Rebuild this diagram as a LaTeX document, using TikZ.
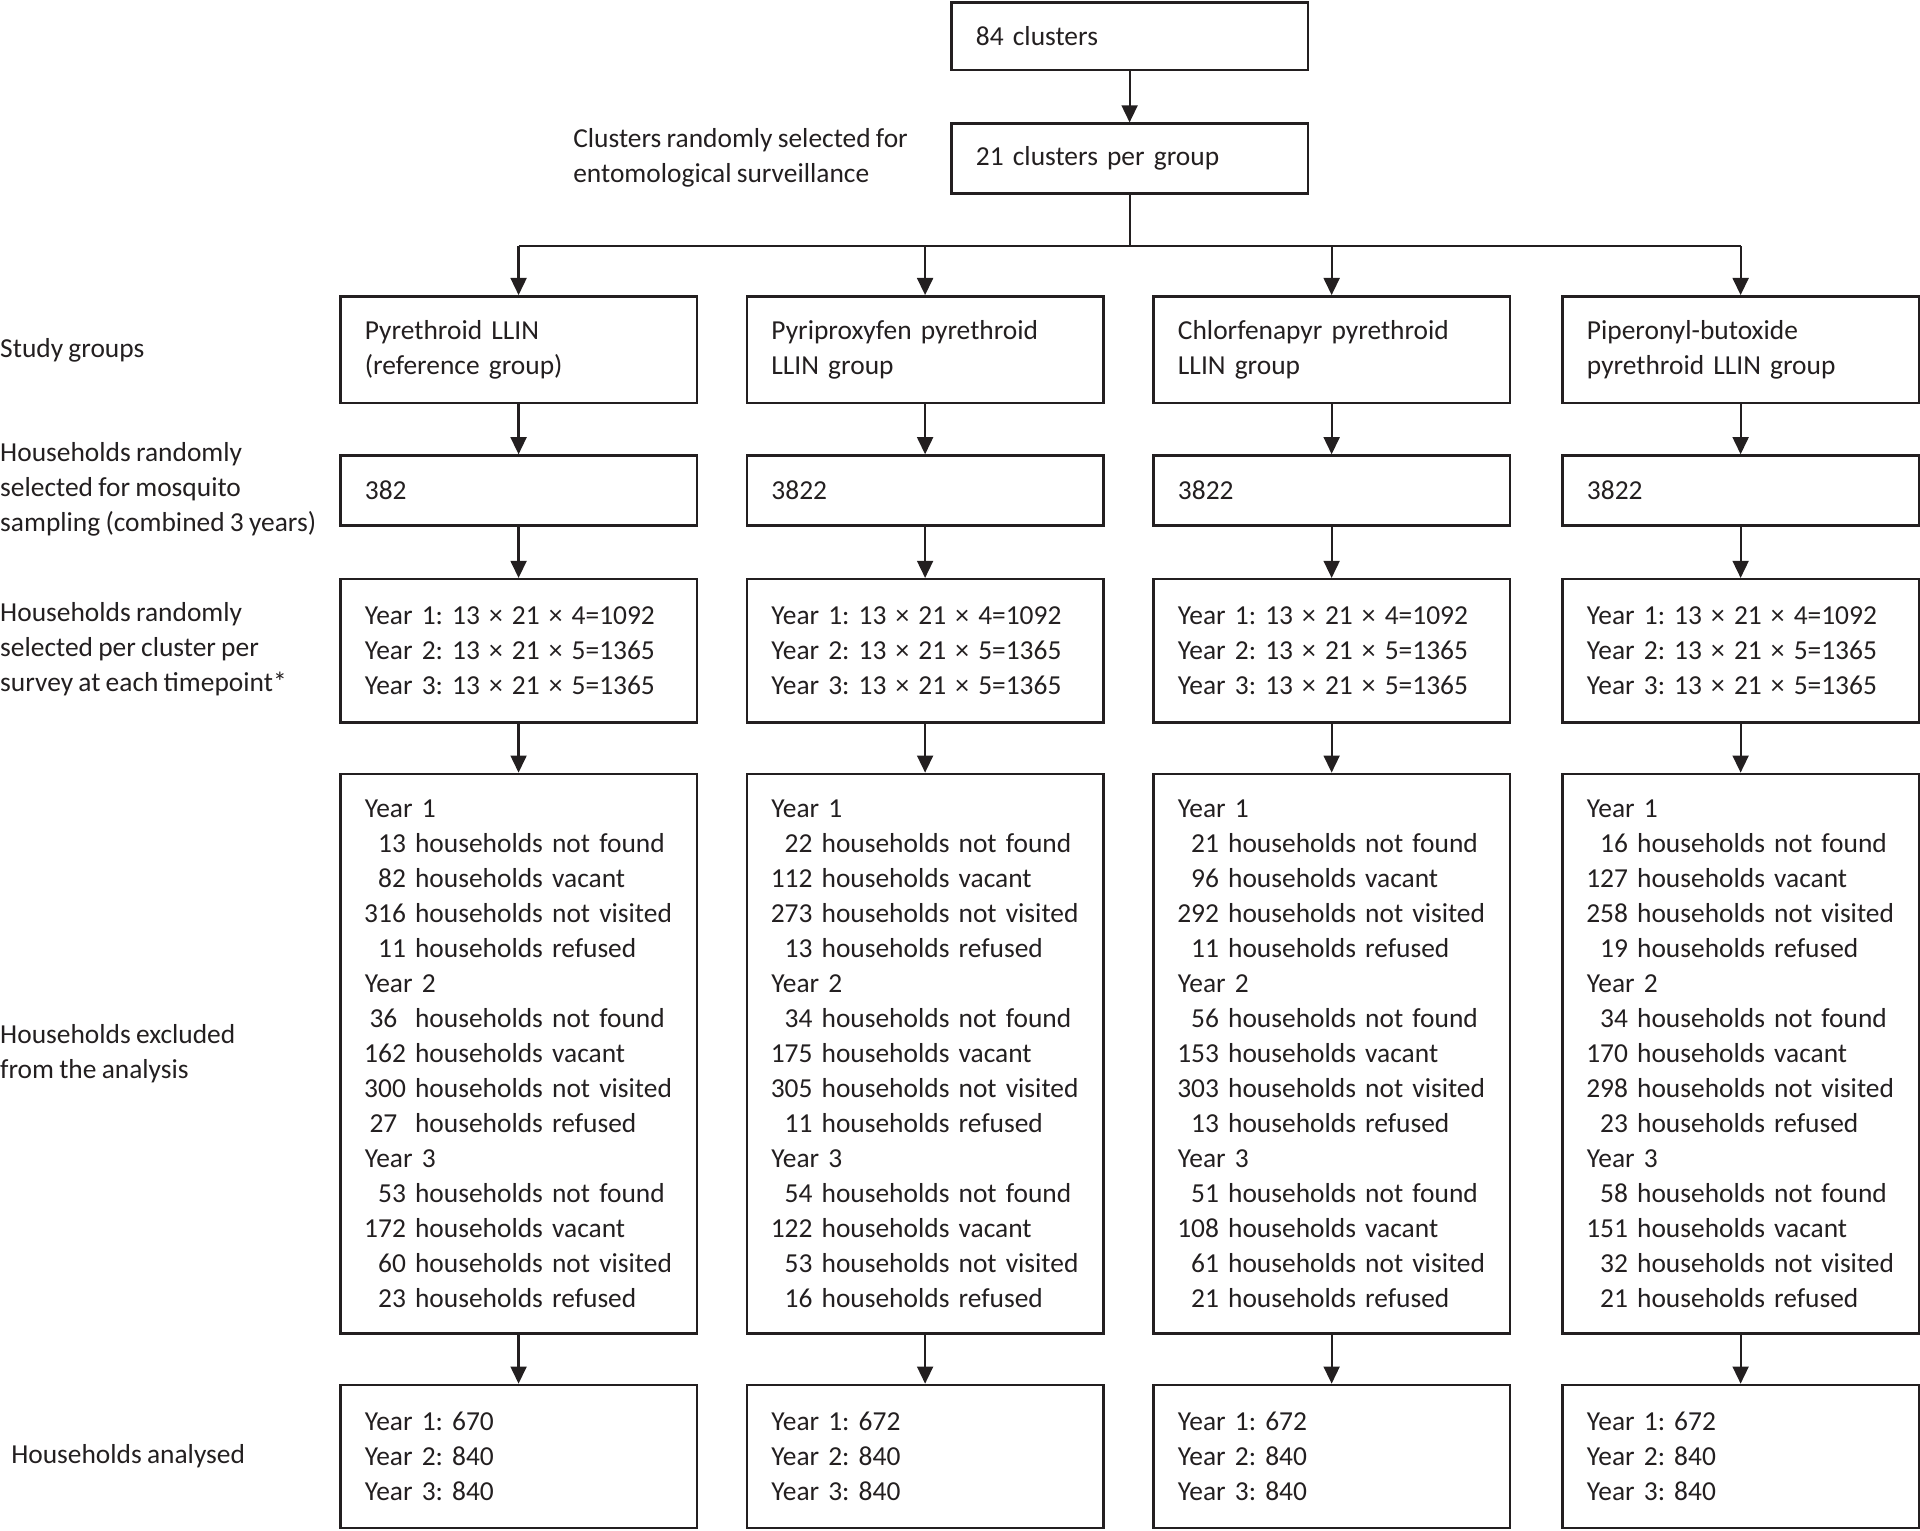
\documentclass[tikz,border=0pt]{standalone}
\usepackage{fontspec}
\setmainfont{Carlito}
\usetikzlibrary{arrows.meta}
\definecolor{ink}{HTML}{231F20}
\newcommand\hl[2]{\makebox[33.5pt][r]{#1} #2}
\newcommand\yr[5]{Year #1\\\hl{#2}{households not found}\\\hl{#3}{households vacant}\\\hl{#4}{households not visited}\\\hl{#5}{households refused}}
\newcommand\myfont{\fontsize{22.4}{28.6}\selectfont\frenchspacing\spaceskip=0.19em plus 0.05em\hyphenpenalty=10000\relax}
\begin{document}
\begin{tikzpicture}[x=1pt,y=-1pt,
  every node/.style={font=\myfont, text=ink},
  box/.style={draw=ink, line width=2pt, text width=251pt, inner xsep=20pt, inner ysep=0pt, align=left, minimum width=291pt},
  lab/.style={align=left, anchor=west, inner sep=0pt},
  con/.style={draw=ink, line width=1.8pt},
  arr/.style={con, -{Triangle[width=13pt,length=14pt]}}]
\useasboundingbox (0,0) rectangle (1568,1250);
% top
\node[box, minimum height=55pt] (top) at (922.5,29.5) {84 clusters};
\node[box, minimum height=57pt] (sel) at (922.5,129.5) {21 clusters per group};
\node[lab] (selL) at (468,128.5) {Clusters randomly selected for\\entomological surveillance};
\coordinate (bar) at (922.5,201);
% row 1
\node[box, minimum height=87pt] (g1) at (423.5,285.5) {Pyrethroid LLIN\\(reference group)};
\node[box, minimum height=87pt] (g2) at (755.5,285.5) {Pyriproxyfen pyrethroid\\LLIN group};
\node[box, minimum height=87pt] (g3) at (1087.5,285.5) {Chlorfenapyr pyrethroid\\LLIN group};
\node[box, minimum height=87pt] (g4) at (1421.5,285.5) {Piperonyl-butoxide\\pyrethroid LLIN group};
% row 2
\node[box, minimum height=57pt] (h1) at (423.5,400.5) {382};
\node[box, minimum height=57pt] (h2) at (755.5,400.5) {3822};
\node[box, minimum height=57pt] (h3) at (1087.5,400.5) {3822};
\node[box, minimum height=57pt] (h4) at (1421.5,400.5) {3822};
% row 3
\foreach \n/\x in {s1/423.5, s2/755.5, s3/1087.5, s4/1421.5}
  \node[box, minimum height=117pt] (\n) at (\x,531.5) {Year 1: 13 × 21 × 4=1092\\Year 2: 13 × 21 × 5=1365\\Year 3: 13 × 21 × 5=1365};
% row 4
\node[box, minimum height=457pt] (e1) at (423.5,860.5) {\yr{1}{13}{82}{316}{11}\\\yr{2}{36\hspace{7pt}}{162}{300}{27\hspace{7pt}}\\\yr{3}{53}{172}{60}{23}};
\node[box, minimum height=457pt] (e2) at (755.5,860.5) {\yr{1}{22}{112}{273}{13}\\\yr{2}{34}{175}{305}{11}\\\yr{3}{54}{122}{53}{16}};
\node[box, minimum height=457pt] (e3) at (1087.5,860.5) {\yr{1}{21}{96}{292}{11}\\\yr{2}{56}{153}{303}{13}\\\yr{3}{51}{108}{61}{21}};
\node[box, minimum height=457pt] (e4) at (1421.5,860.5) {\yr{1}{16}{127}{258}{19}\\\yr{2}{34}{170}{298}{23}\\\yr{3}{58}{151}{32}{21}};
% row 5
\node[box, minimum height=117pt] (a1) at (423.5,1189.5) {Year 1: 670\\Year 2: 840\\Year 3: 840};
\node[box, minimum height=117pt] (a2) at (755.5,1189.5) {Year 1: 672\\Year 2: 840\\Year 3: 840};
\node[box, minimum height=117pt] (a3) at (1087.5,1189.5) {Year 1: 672\\Year 2: 840\\Year 3: 840};
\node[box, minimum height=117pt] (a4) at (1421.5,1189.5) {Year 1: 672\\Year 2: 840\\Year 3: 840};
% left labels
\node[lab] (L1) at (0,286) {Study groups};
\node[lab] (L2) at (0,400) {Households randomly\\selected for mosquito\\sampling (combined 3 years)};
\node[lab] (L3) at (0,530.5) {Households randomly\\selected per cluster per\\survey at each timepoint*};
\node[lab] (L4) at (0,860.5) {Households excluded\\from the analysis};
\node[lab] (L5) at (9,1189) {Households analysed};
% connectors
\draw[arr] (top) -- (sel);
\draw[con] (sel.south) -- (bar);
\draw[con] (g1.north |- bar) -- (g4.north |- bar);
\foreach \c in {1,2,3,4}{
  \draw[arr] (g\c.north |- bar) -- (g\c.north);
  \draw[arr] (g\c) -- (h\c);
  \draw[arr] (h\c) -- (s\c);
  \draw[arr] (s\c) -- (e\c);
  \draw[arr] (e\c) -- (a\c);
}
\end{tikzpicture}
\end{document}
